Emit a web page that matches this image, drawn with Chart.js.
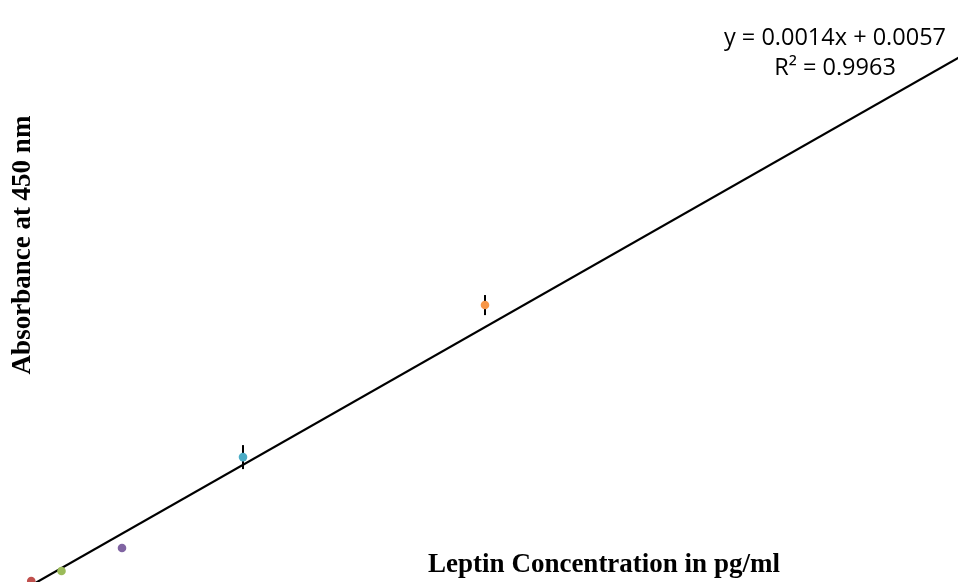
<!DOCTYPE html>
<html>
<head>
<meta charset="utf-8">
<script src="https://cdn.jsdelivr.net/npm/chart.js@4.4.1/dist/chart.umd.min.js"></script>
<style>
  html, body { margin: 0; padding: 0; background: #ffffff; overflow: hidden; }
  #wrap { position: relative; width: 958px; height: 582px; }
</style>
</head>
<body>
<div id="wrap"><canvas id="c"></canvas></div>
<script>
// ---- data ----
const concentrations = [62.5, 125, 250, 500, 1000];          // pg/ml
const absorbance     = [0.115, 0.166, 0.283, 0.745, 1.518];   // OD at 450 nm
const errorBars      = [0.0, 0.0, 0.0, 0.061, 0.051];
const pointColors    = ['#C0504D', '#9BBB59', '#8064A2', '#4BACC6', '#F79646'];
const trendX         = [0, 2000];
const trendY         = [0.0057, 2.8057];
const equationLines  = ['y = 0.0014x + 0.0057', 'R² = 0.9963'];
const xTitle = 'Leptin Concentration in pg/ml';
const yTitle = 'Absorbance at 450 nm';

const errorBarPlugin = {
  id: 'errorBars',
  beforeDatasetsDraw(chart) {
    const ctx = chart.ctx, xs = chart.scales.x, ys = chart.scales.y;
    ctx.save();
    ctx.strokeStyle = '#000';
    ctx.lineWidth = 2;
    concentrations.forEach((c, i) => {
      const e = errorBars[i];
      if (!e) return;
      const px = xs.getPixelForValue(c);
      ctx.beginPath();
      ctx.moveTo(px, ys.getPixelForValue(absorbance[i] + e));
      ctx.lineTo(px, ys.getPixelForValue(absorbance[i] - e));
      ctx.stroke();
    });
    ctx.restore();
  }
};

const textPlugin = {
  id: 'texts',
  afterDraw(chart) {
    const ctx = chart.ctx;
    ctx.save();
    ctx.fillStyle = '#000';
    // equation
    ctx.font = '23.5px "Open Sans"';
    ctx.textAlign = 'center';
    ctx.textBaseline = 'alphabetic';
    ctx.fillText(equationLines[0], 835, 45);
    ctx.fillText(equationLines[1], 835, 75);
    // x title
    ctx.font = 'bold 27px "Liberation Serif"';
    ctx.fillText(xTitle, 604, 572);
    // y title
    ctx.translate(30, 245);
    ctx.rotate(-Math.PI / 2);
    ctx.fillText(yTitle, 0, 0);
    ctx.restore();
  }
};

function build() {
  new Chart(document.getElementById('c'), {
    type: 'scatter',
    data: {
      datasets: [
        {
          label: 'Trendline',
          type: 'line',
          data: trendX.map((x, i) => ({ x: x, y: trendY[i] })),
          borderColor: '#000',
          borderWidth: 2.2,
          pointRadius: 0,
          fill: false,
          order: 2
        },
        {
          label: 'Standards',
          data: concentrations.map((x, i) => ({ x: x, y: absorbance[i] })),
          pointBackgroundColor: pointColors,
          pointBorderWidth: 0,
          pointRadius: 4.3,
          order: 1
        }
      ]
    },
    options: {
      responsive: true,
      maintainAspectRatio: false,
      animation: false,
      layout: { padding: 0, autoPadding: false },
      plugins: { legend: { display: false }, tooltip: { enabled: false } },
      scales: {
        x: { type: 'linear', display: false, min: -2.07, max: 1977.3 },
        y: { type: 'linear', display: false, min: 0.110, max: 3.069 }
      }
    },
    plugins: [errorBarPlugin, textPlugin]
  });
}

if (document.fonts && document.fonts.load) {
  Promise.all([
    document.fonts.load('23.5px "Open Sans"'),
    document.fonts.load('bold 27px "Liberation Serif"')
  ]).then(build, build);
} else {
  build();
}
</script>
</body>
</html>
